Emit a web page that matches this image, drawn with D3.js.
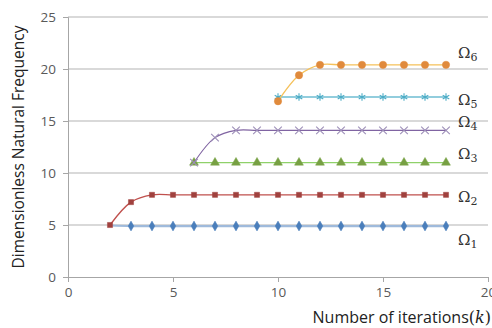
<!DOCTYPE html>
<html>
<head>
<meta charset="utf-8">
<script src="https://cdn.jsdelivr.net/npm/d3@7"></script>
<style>
  body { margin: 0; background: #fff; }
  svg { display: block; }
  .tick text { font-family: 'Open Sans', sans-serif; font-size: 13.5px; fill: #595959; }
</style>
</head>
<body>
<div id="chart"></div>
<script>
// iterations k for each mode, and the frequency
const k1 = [2, 3, 4, 5, 6, 7, 8, 9, 10, 11, 12, 13, 14, 15, 16, 17, 18];
const omega1 = [4.95, 4.9, 4.9, 4.9, 4.9, 4.9, 4.9, 4.9, 4.9, 4.9, 4.9, 4.9, 4.9, 4.9, 4.9, 4.9, 4.9];
const k2 = [2, 3, 4, 5, 6, 7, 8, 9, 10, 11, 12, 13, 14, 15, 16, 17, 18];
const omega2 = [5.0, 7.2, 7.9, 7.9, 7.9, 7.9, 7.9, 7.9, 7.9, 7.9, 7.9, 7.9, 7.9, 7.9, 7.9, 7.9, 7.9];
const k3 = [6, 7, 8, 9, 10, 11, 12, 13, 14, 15, 16, 17, 18];
const omega3 = [11.0, 11.0, 11.0, 11.0, 11.0, 11.0, 11.0, 11.0, 11.0, 11.0, 11.0, 11.0, 11.0];
const k4 = [6, 7, 8, 9, 10, 11, 12, 13, 14, 15, 16, 17, 18];
const omega4 = [11.0, 13.4, 14.1, 14.1, 14.1, 14.1, 14.1, 14.1, 14.1, 14.1, 14.1, 14.1, 14.1];
const k5 = [10, 11, 12, 13, 14, 15, 16, 17, 18];
const omega5 = [17.3, 17.3, 17.3, 17.3, 17.3, 17.3, 17.3, 17.3, 17.3];
const k6 = [10, 11, 12, 13, 14, 15, 16, 17, 18];
const omega6 = [16.9, 19.4, 20.4, 20.4, 20.4, 20.4, 20.4, 20.4, 20.4];

const xTicks = [0, 5, 10, 15, 20];
const yTicks = [0, 5, 10, 15, 20, 25];
const seriesNames = ['1', '2', '3', '4', '5', '6'];
const labelValues = [3.1, 7.2, 11.3, 14.4, 16.5, 21.1];

const width = 492, height = 328;
const margin = {top: 17, right: 4, bottom: 51, left: 68};

const svg = d3.select('#chart')
  .append('svg')
  .attr('width', width)
  .attr('height', height);

const x = d3.scaleLinear().domain([0, 20]).range([margin.left, width - margin.right]);
const y = d3.scaleLinear().domain([0, 25]).range([height - margin.bottom, margin.top]);

// horizontal gridlines
svg.append('g')
  .selectAll('line')
  .data(yTicks.filter(d => d > 0))
  .enter().append('line')
  .attr('x1', x(0))
  .attr('x2', x(20))
  .attr('y1', d => y(d))
  .attr('y2', d => y(d))
  .attr('stroke', '#b3b3b3')
  .attr('stroke-width', 1);

// axes
let xAxis = svg.append('g')
  .attr('transform', `translate(0,${y(0)})`)
  .call(d3.axisBottom(x).tickValues(xTicks).tickSize(5).tickPadding(5));
let yAxis = svg.append('g')
  .attr('transform', `translate(${x(0)},0)`)
  .call(d3.axisLeft(y).tickValues(yTicks).tickSize(5).tickPadding(7));
[xAxis, yAxis].forEach(a => {
  a.select('.domain').attr('stroke', '#a6a6a6');
  a.selectAll('.tick line').attr('stroke', '#a6a6a6');
});

const series = [
  {ks: k1, vals: omega1, line: '#9fbadb', lineWidth: 2.2, marker: 'diamond', fill: '#4a7ebb'},
  {ks: k2, vals: omega2, line: '#c0504d', lineWidth: 1.3, marker: 'square', fill: '#a0413e'},
  {ks: k3, vals: omega3, line: '#8fd16a', lineWidth: 1.3, marker: 'triangle', fill: '#77a043'},
  {ks: k4, vals: omega4, line: '#8064a2', lineWidth: 1.1, marker: 'cross', fill: '#9d8fb8'},
  {ks: k5, vals: omega5, line: '#92cddd', lineWidth: 2, marker: 'star', fill: '#4bacc6'},
  {ks: k6, vals: omega6, line: '#f5c15a', lineWidth: 1.3, marker: 'circle', fill: '#e08a3c'}
];

const line = d3.line()
  .x(d => x(d[0]))
  .y(d => y(d[1]))
  .curve(d3.curveCatmullRom.alpha(0.5));

const symbols = {
  diamond: d3.symbol().type(d3.symbolDiamond).size(28),
  square: d3.symbol().type(d3.symbolSquare).size(26),
  triangle: d3.symbol().type(d3.symbolTriangle).size(34),
  cross: d3.symbol().type(d3.symbolTimes).size(40),
  star: d3.symbol().type(d3.symbolAsterisk).size(40),
  circle: d3.symbol().type(d3.symbolCircle).size(42)
};

series.forEach(s => {
  let pts = s.ks.map((k, i) => [k, s.vals[i]]);
  let g = svg.append('g');
  g.append('path')
    .datum(pts)
    .attr('d', line)
    .attr('fill', 'none')
    .attr('stroke', s.line)
    .attr('stroke-width', s.lineWidth);
  let stroked = s.marker === 'cross' || s.marker === 'star';
  g.selectAll('path.pt')
    .data(s.marker === 'diamond' ? pts.slice(1) : pts)
    .enter().append('path')
    .attr('class', 'pt')
    .attr('d', symbols[s.marker])
    .attr('transform', d => `translate(${x(d[0])},${y(d[1])})`)
    .attr('fill', stroked ? 'none' : s.fill)
    .attr('stroke', s.fill)
    .attr('stroke-width', stroked ? 1.1 : 0.5);
});

// series labels on the right
let labels = svg.append('g')
  .selectAll('text')
  .data(seriesNames)
  .enter().append('text')
  .attr('x', 458)
  .attr('y', (d, i) => y(labelValues[i]))
  .attr('font-family', "'DejaVu Serif', serif")
  .attr('font-size', 15)
  .attr('fill', '#333');
labels.append('tspan').text('Ω');
labels.append('tspan')
  .attr('font-size', 11)
  .attr('dy', 3)
  .text(d => d);

// axis titles
svg.append('text')
  .attr('transform', `translate(24,${(y(0) + y(25)) / 2}) rotate(-90)`)
  .attr('text-anchor', 'middle')
  .attr('font-family', "'Open Sans', sans-serif")
  .attr('font-size', 15.5)
  .attr('fill', '#222')
  .text('Dimensionless Natural Frequency');

let xTitle = svg.append('text')
  .attr('x', 491)
  .attr('y', 323)
  .attr('text-anchor', 'end')
  .attr('font-family', "'Open Sans', sans-serif")
  .attr('font-size', 16)
  .attr('fill', '#222');
xTitle.append('tspan').text('Number of iterations');
xTitle.append('tspan').attr('font-family', "'DejaVu Serif', serif").text('(');
xTitle.append('tspan').attr('font-family', "'DejaVu Serif', serif").attr('font-style', 'italic').text('k');
xTitle.append('tspan').attr('font-family', "'DejaVu Serif', serif").text(')');
</script>
</body>
</html>
